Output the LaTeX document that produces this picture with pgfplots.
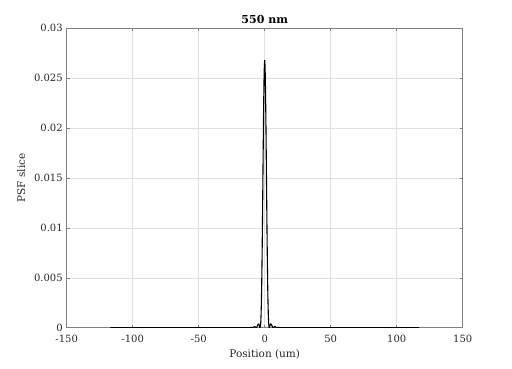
\documentclass[border=0pt]{standalone}
\usepackage{fontspec}
\setmainfont{DejaVu Serif}
\usepackage{pgfplots}
\pgfplotsset{compat=1.18}
\definecolor{axgray}{rgb}{0.50,0.50,0.50}
\definecolor{gridgray}{rgb}{0.88,0.88,0.88}
\definecolor{txt}{rgb}{0.15,0.15,0.15}
\begin{document}
\begin{tikzpicture}
\useasboundingbox (0,0) rectangle (512pt,369pt);
\begin{axis}[
  at={(66.7pt,41.3pt)}, anchor=south west,
  scale only axis, width=396pt, height=299.4pt,
  xmin=-150, xmax=150, ymin=0, ymax=0.03,
  xtick={-150,-100,-50,0,50,100,150},
  xticklabels={-150,-100,-50,0,50,100,150},
  ytick={0,0.005,0.01,0.015,0.02,0.025,0.03},
  yticklabels={0,0.005,0.01,0.015,0.02,0.025,0.03},
  scaled y ticks=false,
  tick align=inside, tick pos=both,
  major tick length=3pt,
  every tick/.style={axgray, line width=0.5pt},
  axis line style={axgray, line width=0.6pt},
  grid=major,
  major grid style={gridgray, line width=0.5pt},
  ticklabel style={font=\fontsize{10}{12}\selectfont, text=txt},
  xticklabel style={yshift=-4pt},
  yticklabel style={xshift=-0.5pt},
  label style={font=\fontsize{10.5}{12}\selectfont, text=txt},
  xlabel={Position (um)},
  ylabel={PSF slice},
  xlabel style={yshift=0pt},
  ylabel style={yshift=2pt},
  title={550 nm},
  title style={font=\bfseries\fontsize{11}{13}\selectfont, text=black, yshift=-5pt},
]
\addplot[black, line width=1.1pt] coordinates {
(-117,0) (-15,0) (-12,0.000002) (-11,0.00002) (-10.3,0.00004) (-9.5,0.00002)
(-9,0.000004) (-8.5,0.00004) (-8,0.000097) (-7.5,0.000108) (-7,0.000059)
(-6.5,0.000003) (-6,0.000044) (-5.5,0.00019) (-5,0.00033) (-4.5,0.00037)
(-4,0.00020) (-3.75,0.00007) (-3.5,0) (-3.25,0.000094) (-3,0.00048)
(-2.75,0.00127) (-2.5,0.00257) (-2.25,0.00443) (-2,0.00685) (-1.75,0.00974)
(-1.5,0.01298) (-1.25,0.01637) (-1,0.01965) (-0.75,0.02255) (-0.5,0.02484)
(-0.25,0.02629) (0,0.0268)
(0.25,0.02629) (0.5,0.02484) (0.75,0.02255) (1,0.01965) (1.25,0.01637)
(1.5,0.01298) (1.75,0.00974) (2,0.00685) (2.25,0.00443) (2.5,0.00257)
(2.75,0.00127) (3,0.00048) (3.25,0.000094) (3.5,0) (3.75,0.00007)
(4,0.00020) (4.5,0.00037) (5,0.00033) (5.5,0.00019) (6,0.000044)
(6.5,0.000003) (7,0.000059) (7.5,0.000108) (8,0.000097) (8.5,0.00004)
(9,0.000004) (9.5,0.00002) (10.3,0.00004) (11,0.00002) (12,0.000002)
(15,0) (117,0)
};
\end{axis}
\end{tikzpicture}
\end{document}
